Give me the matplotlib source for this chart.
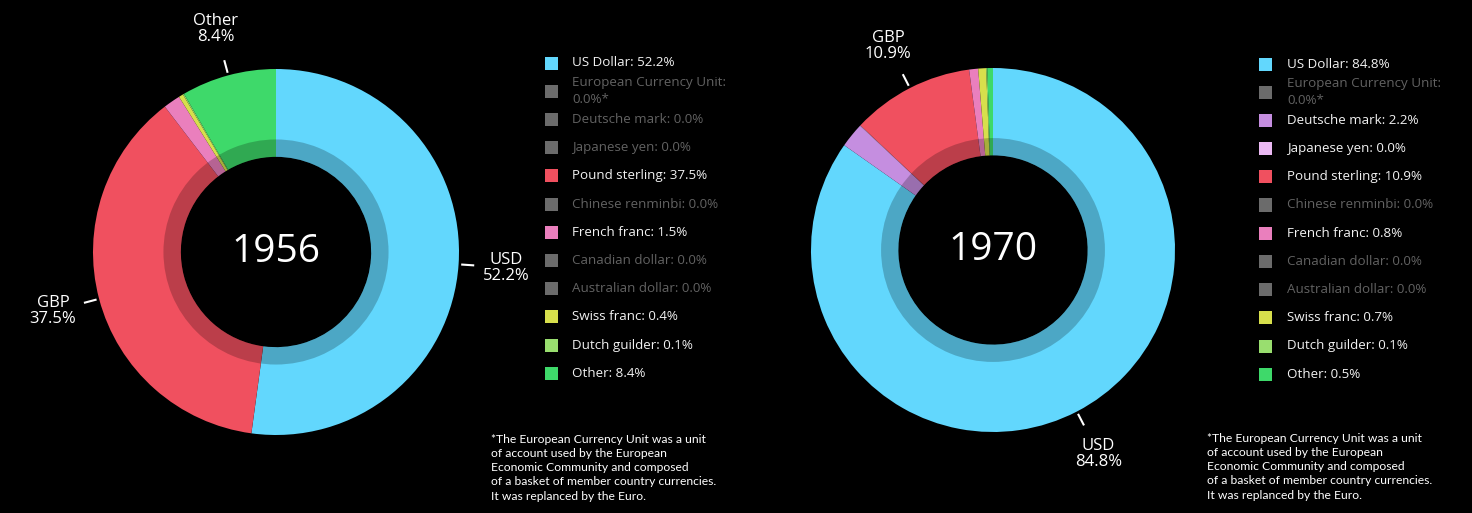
import numpy as np
import matplotlib.pyplot as plt
from matplotlib.patches import Wedge, Rectangle

currencies = ['US Dollar', 'European Currency Unit', 'Deutsche mark', 'Japanese yen',
              'Pound sterling', 'Chinese renminbi', 'French franc', 'Canadian dollar',
              'Australian dollar', 'Swiss franc', 'Dutch guilder', 'Other']
codes = ['USD', 'ECU', 'DEM', 'JPY', 'GBP', 'CNY', 'FRF', 'CAD', 'AUD', 'CHF', 'NLG', 'Other']
base_colors = ['#62d7fd', '#5b8fd6', '#c58ee0', '#ebb9f3', '#f0505f', '#e39a4a',
               '#ea7fbd', '#b34a4a', '#4a9cb3', '#d7df4c', '#99de6f', '#3ed96a']
years = ['1956', '1970']
shares_1956 = [52.2, 0.0, 0.0, 0.0, 37.5, 0.0, 1.5, 0.0, 0.0, 0.4, 0.1, 8.4]
shares_1970 = [84.8, 0.0, 2.2, 0.04, 10.9, 0.0, 0.8, 0.0, 0.0, 0.7, 0.1, 0.5]

footnote = ("*The European Currency Unit was a unit\n"
            "of account used by the European\n"
            "Economic Community and composed\n"
            "of a basket of member country currencies.\n"
            "It was replanced by the Euro.")

GRAY = '#6b6b6b'
W, H = 1472, 513
plt.rcParams['font.family'] = ['Open Sans', 'DejaVu Sans']

fig = plt.figure(figsize=(W / 100, H / 100), dpi=100, facecolor='black')


def px_axes(cx, cy, r, span=1.4):
    half = r * span
    return fig.add_axes([(cx - half) / W, (H - cy - half) / H, 2 * half / W, 2 * half / H])


def donut(cx, cy, r, year, shares):
    ax = px_axes(cx, cy, r)
    ax.set_facecolor('none')
    cols = [c if v > 0 else GRAY for c, v in zip(base_colors, shares)]
    wedges, _ = ax.pie(shares, colors=cols, startangle=90, counterclock=False,
                       radius=1.0, wedgeprops=dict(width=0.48, linewidth=0))
    # darker inner band
    ax.add_patch(Wedge((0, 0), 0.615, 0, 360, width=0.095, facecolor='black',
                       alpha=0.22, linewidth=0))
    ax.text(0, 0, year, color='white', fontsize=28, ha='center', va='center')
    total = sum(shares)
    for w, code, v in zip(wedges, codes, shares):
        if v / total < 0.05:
            continue
        ang = np.deg2rad((w.theta1 + w.theta2) / 2)
        dx, dy = np.cos(ang), np.sin(ang)
        ax.plot([1.02 * dx, 1.08 * dx], [1.02 * dy, 1.08 * dy], color='white', lw=1.5)
        ax.text(1.26 * dx, 1.26 * dy, f"{code}\n{v:.1f}%", color='white', fontsize=12,
                ha='center', va='center', linespacing=1.0)
    ax.set_xlim(-1.4, 1.4)
    ax.set_ylim(-1.4, 1.4)
    ax.set_aspect('equal')
    ax.axis('off')


def legend(x_sq, x_txt, y0, step, shares):
    for i, (name, v, c) in enumerate(zip(currencies, shares, base_colors)):
        y = y0 + step * i
        on = v > 0
        fig.patches.append(Rectangle((x_sq / W, 1 - (y + 6.5) / H), 13 / W, 13 / H,
                                     transform=fig.transFigure,
                                     facecolor=c if on else GRAY, linewidth=0))
        label = f"{name}: {v:.1f}%"
        if name == 'European Currency Unit':
            label = f"{name}:\n{v:.1f}%*"
        fig.text(x_txt / W, 1 - y / H, label, color='#f2f2f2' if on else '#626262',
                 fontsize=9.6, ha='left', va='center', linespacing=1.35)


donut(276, 252, 183, years[0], shares_1956)
donut(993, 250, 182, years[1], shares_1970)
legend(545, 572, 63, 28.2, shares_1956)
legend(1259, 1287, 64, 28.2, shares_1970)

fig.text(491 / W, 1 - 434 / H, footnote, color='white', fontsize=8.7, ha='left', va='top',
         family=['Lato', 'DejaVu Sans'], linespacing=1.35)
fig.text(1207 / W, 1 - 433 / H, footnote, color='white', fontsize=8.7, ha='left', va='top',
         family=['Lato', 'DejaVu Sans'], linespacing=1.35)

fig.savefig('out.png', dpi=100, facecolor='black')
